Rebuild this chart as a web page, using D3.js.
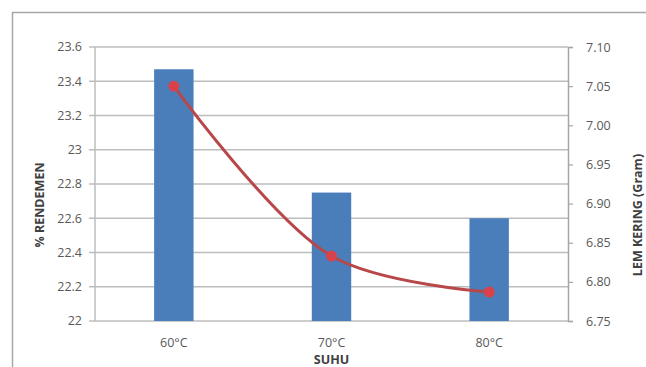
<!DOCTYPE html>
<html>
<head>
<meta charset="utf-8">
<script src="https://cdn.jsdelivr.net/npm/d3@7"></script>
<style>
  html, body { margin: 0; padding: 0; background: #fff; }
  svg { display: block; }
  text { font-family: "Open Sans", "Liberation Sans", sans-serif; }
</style>
</head>
<body>
<svg id="chart" width="646" height="367"></svg>
<script>
// Temperature categories
const categories = ["60°C", "70°C", "80°C"];
// Yield (% rendemen), bars on the left axis
const rendemen = [23.47, 22.75, 22.60];
// Dry glue weight (gram), line on the right axis
const lemKering = [7.05, 6.833, 6.787];
// Axis ticks
const leftTicks = [22, 22.2, 22.4, 22.6, 22.8, 23, 23.2, 23.4, 23.6];
const rightTicks = [6.75, 6.80, 6.85, 6.90, 6.95, 7.00, 7.05, 7.10];

const svg = d3.select("#chart");
const W = 646, H = 367;
const plot = { left: 95, right: 568, top: 47, bottom: 321 };

// Outer chart frame
svg.append("rect")
  .attr("x", 12.5).attr("y", 12.5)
  .attr("width", 650).attr("height", 370)
  .attr("fill", "#fff").attr("stroke", "#a6a6a6").attr("stroke-width", 1.5);

const x = d3.scaleBand().domain(categories).range([plot.left, plot.right]).paddingInner(0.75).paddingOuter(0.375);
const xc = d3.scalePoint().domain(categories).range([plot.left, plot.right]).padding(0.5);
const yL = d3.scaleLinear().domain([22, 23.6]).range([plot.bottom, plot.top]);
const yR = d3.scaleLinear().domain([6.75, 7.10]).range([plot.bottom, plot.top]);

// Gridlines
svg.append("g").selectAll("line").data(leftTicks).join("line")
  .attr("x1", plot.left - 6).attr("x2", plot.right)
  .attr("y1", d => yL(d)).attr("y2", d => yL(d))
  .attr("stroke", "#bdbdbd").attr("stroke-width", 1.5);

// Left axis line
svg.append("line")
  .attr("x1", plot.left).attr("x2", plot.left)
  .attr("y1", plot.top).attr("y2", plot.bottom)
  .attr("stroke", "#bdbdbd").attr("stroke-width", 1.5);

// Left tick labels
svg.append("g").selectAll("text").data(leftTicks).join("text")
  .attr("x", plot.left - 13).attr("y", d => yL(d))
  .attr("dy", "0.35em").attr("text-anchor", "end")
  .attr("font-size", 12.5).attr("fill", "#595959")
  .text(d => d3.format("~g")(d));

// Right axis with outward ticks
const rAxis = svg.append("g").attr("transform", `translate(${plot.right},0)`)
  .call(d3.axisRight(yR).tickValues(rightTicks).tickSize(5).tickPadding(13).tickFormat(d3.format(".2f")));
rAxis.select(".domain").attr("stroke", "#a6a6a6").attr("stroke-width", 1.5);
rAxis.selectAll(".tick line").attr("stroke", "#a6a6a6").attr("stroke-width", 1.2);
rAxis.selectAll(".tick text").attr("font-size", 12.5).attr("fill", "#595959")
  .attr("font-family", "\"Open Sans\", sans-serif");

// Bars
svg.append("g").selectAll("rect").data(categories).join("rect")
  .attr("x", d => x(d)).attr("width", x.bandwidth())
  .attr("y", (d, i) => yL(rendemen[i]))
  .attr("height", (d, i) => yL(22) - yL(rendemen[i]))
  .attr("fill", "#4a7ebb");

// Smoothed line
const pts = categories.map((c, i) => [xc(c), yR(lemKering[i])]);
svg.append("path")
  .attr("d", d3.line().curve(d3.curveCatmullRom.alpha(0.5))(pts))
  .attr("fill", "none").attr("stroke", "#b8474a").attr("stroke-width", 3);

svg.append("g").selectAll("circle").data(pts).join("circle")
  .attr("cx", d => d[0]).attr("cy", d => d[1]).attr("r", 5.5)
  .attr("fill", "#d9424a");

// Category labels
svg.append("g").selectAll("text").data(categories).join("text")
  .attr("x", d => xc(d)).attr("y", 343)
  .attr("dy", "0.35em").attr("text-anchor", "middle")
  .attr("font-size", 12.5).attr("fill", "#595959")
  .text(d => d);

// Axis titles
svg.append("text").attr("x", xc("70°C")).attr("y", 360).attr("dy", "0.35em")
  .attr("text-anchor", "middle").attr("font-size", 12.5).attr("font-weight", "bold")
  .attr("fill", "#404040").text("SUHU");

svg.append("text").attr("transform", "translate(40,205) rotate(-90)")
  .attr("dy", "0.35em").attr("text-anchor", "middle")
  .attr("font-size", 12.5).attr("font-weight", "bold").attr("fill", "#404040")
  .text("% RENDEMEN");

svg.append("text").attr("transform", "translate(638,215) rotate(-90)")
  .attr("dy", "0.35em").attr("text-anchor", "middle")
  .attr("font-size", 12.5).attr("font-weight", "bold").attr("fill", "#404040")
  .text("LEM KERING (Gram)");
</script>
</body>
</html>
